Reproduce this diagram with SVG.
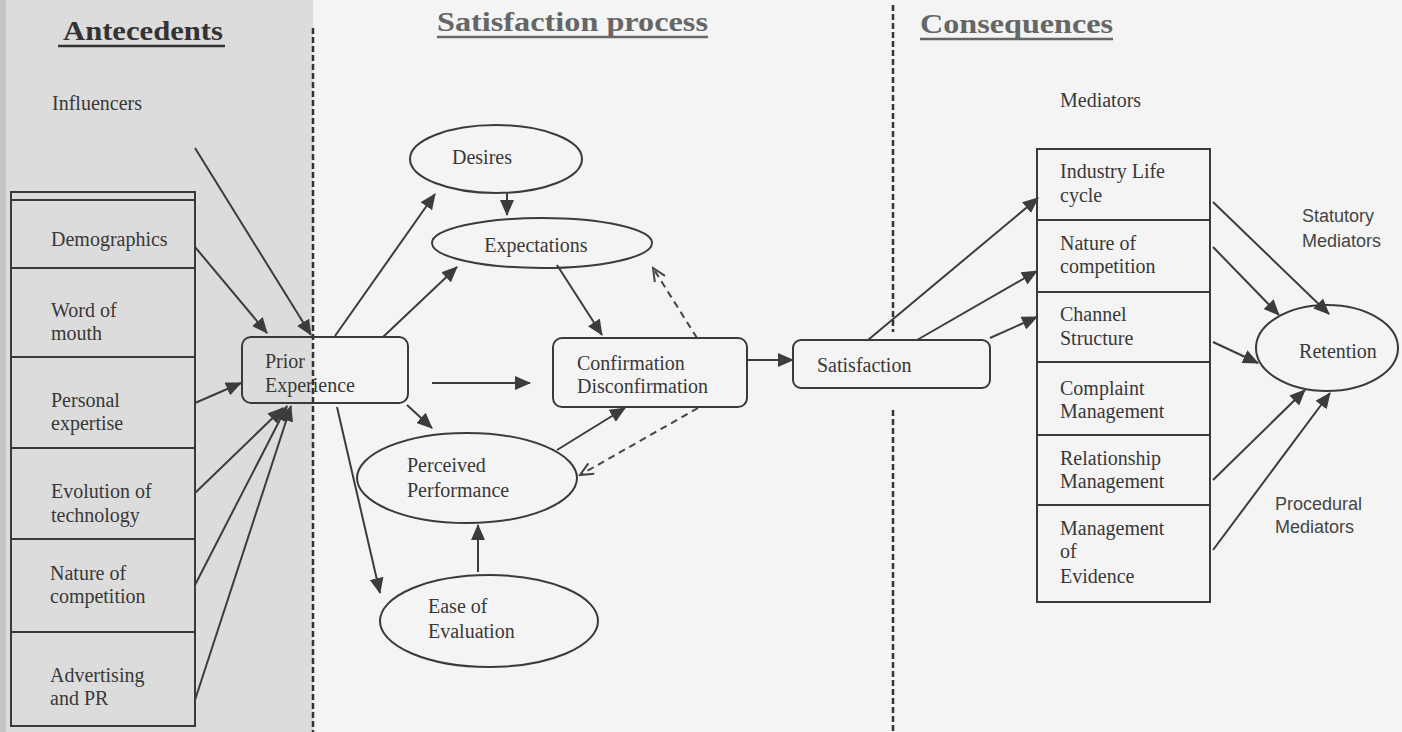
<svg xmlns="http://www.w3.org/2000/svg" width="1402" height="732" viewBox="0 0 1402 732">
<style>
.t{font-family:"Liberation Serif","Times New Roman",serif;font-size:20px;fill:#383838}
.s{font-family:"Liberation Sans",Arial,sans-serif;font-size:18px;fill:#444}
.h{font-family:"Liberation Serif","Times New Roman",serif;font-size:28px;font-weight:bold}
.box{fill:none;stroke:#3a3a3a;stroke-width:2}
.ell{fill:none;stroke:#3a3a3a;stroke-width:2}
.a{stroke:#3c3c3c;stroke-width:2;fill:none;marker-end:url(#ah)}
.d{stroke:#444;stroke-width:2;fill:none;stroke-dasharray:7 5;marker-end:url(#oh)}
.sep{stroke:#333;stroke-width:2.5;stroke-dasharray:6 3}
</style>
<defs>
<marker id="ah" markerUnits="userSpaceOnUse" markerWidth="16" markerHeight="14" refX="15" refY="7" orient="auto">
<path d="M0,0 L16,7 L0,14 z" fill="#3c3c3c"/>
</marker>
<marker id="oh" markerUnits="userSpaceOnUse" markerWidth="16" markerHeight="14" refX="14" refY="7" orient="auto">
<path d="M1,1 L14,7 L1,13" fill="none" stroke="#444" stroke-width="2"/>
</marker>
</defs>
<rect x="0" y="0" width="1402" height="732" fill="#f4f4f4"/>
<rect x="0" y="0" width="313" height="732" fill="#dcdcdc"/>
<rect x="0" y="0" width="6" height="732" fill="#c4c4c4"/>

<g id="headers">
<text class="h" x="63" y="40" fill="#333" textLength="160" lengthAdjust="spacingAndGlyphs">Antecedents</text>
<line x1="58" y1="46" x2="225" y2="46" stroke="#333" stroke-width="2.5"/>
<text class="h" x="437" y="31" fill="#666" textLength="271" lengthAdjust="spacingAndGlyphs">Satisfaction process</text>
<line x1="437" y1="37" x2="708" y2="37" stroke="#666" stroke-width="2.5"/>
<text class="h" x="920" y="33" fill="#666" textLength="193" lengthAdjust="spacingAndGlyphs">Consequences</text>
<line x1="920" y1="39" x2="1113" y2="39" stroke="#666" stroke-width="2.5"/>
</g>

<g id="separators">
<line class="sep" x1="313" y1="28" x2="313" y2="732"/>
<line class="sep" x1="893" y1="5" x2="893" y2="332"/>
<line class="sep" x1="893" y1="410" x2="893" y2="732"/>
</g>

<g id="labels">
<text class="t" x="52" y="110">Influencers</text>
<text class="t" x="1060" y="107" font-size="18">Mediators</text>
<text class="s" x="1302" y="222">Statutory</text>
<text class="s" x="1302" y="247">Mediators</text>
<text class="s" x="1275" y="510">Procedural</text>
<text class="s" x="1275" y="533">Mediators</text>
</g>

<g id="antecedents">
<rect class="box" x="11" y="192" width="184" height="534"/>
<line class="box" x1="11" y1="200" x2="195" y2="200"/>
<line class="box" x1="11" y1="268" x2="195" y2="268"/>
<line class="box" x1="11" y1="357" x2="195" y2="357"/>
<line class="box" x1="11" y1="448" x2="195" y2="448"/>
<line class="box" x1="11" y1="539" x2="195" y2="539"/>
<line class="box" x1="11" y1="632" x2="195" y2="632"/>
<text class="t" x="51" y="246">Demographics</text>
<text class="t" x="51" y="317">Word of</text>
<text class="t" x="51" y="340">mouth</text>
<text class="t" x="51" y="407">Personal</text>
<text class="t" x="51" y="430">expertise</text>
<text class="t" x="51" y="498">Evolution of</text>
<text class="t" x="51" y="522">technology</text>
<text class="t" x="50" y="580">Nature of</text>
<text class="t" x="50" y="603">competition</text>
<text class="t" x="50" y="682">Advertising</text>
<text class="t" x="50" y="705">and PR</text>
</g>

<g id="prior">
<rect class="box" x="242" y="337" width="166" height="66" rx="9"/>
<text class="t" x="265" y="368">Prior</text>
<text class="t" x="265" y="392">Experience</text>
</g>

<g id="desires">
<ellipse class="ell" cx="496" cy="159" rx="86" ry="34"/>
<text class="t" x="482" y="164" text-anchor="middle">Desires</text>
</g>
<g id="expectations">
<ellipse class="ell" cx="542" cy="243" rx="110" ry="25"/>
<text class="t" x="536" y="252" text-anchor="middle">Expectations</text>
</g>
<g id="confirmation">
<rect class="box" x="553" y="338" width="194" height="69" rx="9"/>
<text class="t" x="577" y="370">Confirmation</text>
<text class="t" x="577" y="393">Disconfirmation</text>
</g>
<g id="perceived">
<ellipse class="ell" cx="467" cy="478" rx="110" ry="45"/>
<text class="t" x="407" y="472">Perceived</text>
<text class="t" x="407" y="497">Performance</text>
</g>
<g id="ease">
<ellipse class="ell" cx="489" cy="621" rx="109" ry="46"/>
<text class="t" x="428" y="613">Ease of</text>
<text class="t" x="428" y="638">Evaluation</text>
</g>
<g id="satisfaction">
<rect class="box" x="793" y="340" width="197" height="48" rx="8"/>
<text class="t" x="817" y="372">Satisfaction</text>
</g>

<g id="mediators">
<rect class="box" x="1037" y="149" width="173" height="453"/>
<line class="box" x1="1037" y1="220" x2="1210" y2="220"/>
<line class="box" x1="1037" y1="292" x2="1210" y2="292"/>
<line class="box" x1="1037" y1="362" x2="1210" y2="362"/>
<line class="box" x1="1037" y1="435" x2="1210" y2="435"/>
<line class="box" x1="1037" y1="505" x2="1210" y2="505"/>
<text class="t" x="1060" y="178">Industry Life</text>
<text class="t" x="1060" y="202">cycle</text>
<text class="t" x="1060" y="250">Nature of</text>
<text class="t" x="1060" y="273">competition</text>
<text class="t" x="1060" y="321">Channel</text>
<text class="t" x="1060" y="345">Structure</text>
<text class="t" x="1060" y="395">Complaint</text>
<text class="t" x="1060" y="418">Management</text>
<text class="t" x="1060" y="465">Relationship</text>
<text class="t" x="1060" y="488">Management</text>
<text class="t" x="1060" y="535">Management</text>
<text class="t" x="1060" y="558">of</text>
<text class="t" x="1060" y="583">Evidence</text>
</g>

<g id="retention">
<ellipse class="ell" cx="1327" cy="348" rx="71" ry="43"/>
<text class="t" x="1338" y="358" text-anchor="middle">Retention</text>
</g>

<g id="connectors">
<line class="a" x1="195" y1="148" x2="311" y2="335"/>
<line class="a" x1="195" y1="247" x2="267" y2="333"/>
<line class="a" x1="195" y1="403" x2="241" y2="383"/>
<line class="a" x1="195" y1="493" x2="283" y2="408"/>
<line class="a" x1="195" y1="585" x2="287" y2="406"/>
<line class="a" x1="195" y1="700" x2="291" y2="406"/>
<line class="a" x1="335" y1="336" x2="435" y2="194"/>
<line class="a" x1="383" y1="337" x2="457" y2="267"/>
<line class="a" x1="432" y1="383" x2="530" y2="383"/>
<line class="a" x1="407" y1="405" x2="432" y2="428"/>
<line class="a" x1="337" y1="407" x2="380" y2="593"/>
<line class="a" x1="507" y1="193" x2="507" y2="215"/>
<line class="a" x1="557" y1="265" x2="602" y2="335"/>
<line class="a" x1="557" y1="450" x2="625" y2="408"/>
<line class="a" x1="478" y1="572" x2="478" y2="525"/>
<line class="d" x1="697" y1="338" x2="653" y2="268"/>
<line class="d" x1="698" y1="408" x2="580" y2="475"/>
<line class="a" x1="747" y1="360" x2="793" y2="360"/>
<line class="a" x1="868" y1="340" x2="1038" y2="198"/>
<line class="a" x1="917" y1="340" x2="1037" y2="271"/>
<line class="a" x1="990" y1="338" x2="1037" y2="317"/>
<line class="a" x1="1213" y1="202" x2="1329" y2="314"/>
<line class="a" x1="1213" y1="247" x2="1279" y2="315"/>
<line class="a" x1="1213" y1="342" x2="1258" y2="363"/>
<line class="a" x1="1213" y1="480" x2="1305" y2="390"/>
<line class="a" x1="1213" y1="550" x2="1330" y2="393"/>
</g>
</svg>
